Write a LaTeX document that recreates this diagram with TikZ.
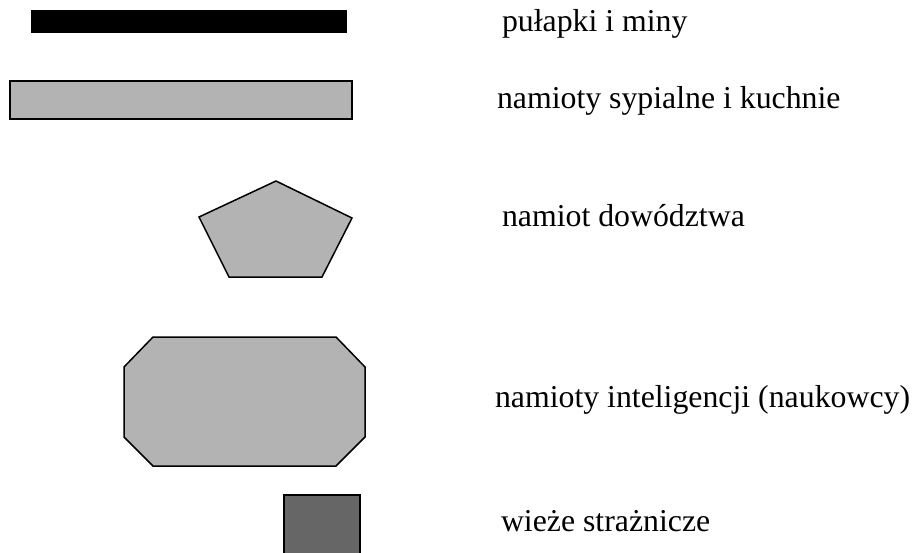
\documentclass[tikz,border=0pt]{standalone}
\usepackage{fontspec}
\setmainfont{Liberation Serif}
\begin{document}
\begin{tikzpicture}[x=1pt,y=-1pt,
  shp/.style={draw=black,line width=1.5pt,fill=lightgr,line join=miter},
  lbl/.style={anchor=base west,inner sep=0pt,outer sep=0pt,font=\fontsize{31.8}{36}\selectfont}]
\definecolor{lightgr}{HTML}{B3B3B3}
\definecolor{darkgr}{HTML}{666666}
\useasboundingbox (0,0) rectangle (915,553);
\fill[black] (31,10) rectangle (347,33);
\node[lbl] (t1) at (502,32) {pułapki i miny};
\draw[shp] (10,81) rectangle (352,119);
\node[lbl] (t2) at (497,109) {namioty sypialne i kuchnie};
\draw[shp] (276,181) -- (352,218) -- (322,277) -- (229,277) -- (199,217) -- cycle;
\node[lbl] (t3) at (502,227) {namiot dowództwa};
\draw[shp] (153,337) -- (336,337) -- (365,367) -- (365,437) -- (336,466) -- (153,466) -- (124,437) -- (124,367) -- cycle;
\node[lbl] (t4) at (495,407) {namioty inteligencji (naukowcy)};
\draw[shp,fill=darkgr] (284,560) -- (284,495) -- (360,495) -- (360,560);
\node[lbl] (t5) at (501,531) {wieże strażnicze};
\end{tikzpicture}
\end{document}
